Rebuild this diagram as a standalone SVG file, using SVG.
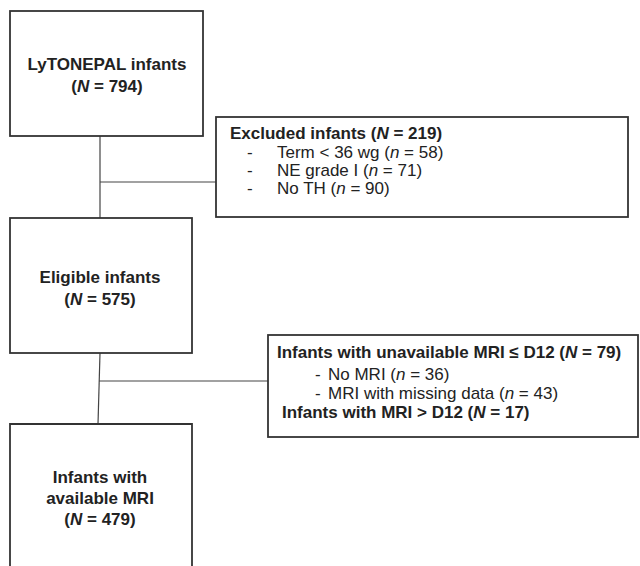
<svg xmlns="http://www.w3.org/2000/svg" width="640" height="566" viewBox="0 0 640 566">
<style>
.box{fill:#fff;stroke:#333;stroke-width:1.8}
.ln{fill:none;stroke:#444;stroke-width:1.2}
text{font-family:"Liberation Sans",Arial,sans-serif;font-size:17px;fill:#222}
.b{font-weight:bold}
.c{text-anchor:middle}
</style>
<rect width="640" height="566" fill="#fff"/>
<g id="connectors">
<line class="ln" x1="100" y1="136" x2="100" y2="218"/>
<line class="ln" x1="100" y1="182" x2="216" y2="182"/>
<line class="ln" x1="100" y1="353" x2="98" y2="424"/>
<line class="ln" x1="99" y1="381" x2="268" y2="381"/>
</g>
<g id="lytonepal">
<rect class="box" x="10" y="11" width="193" height="125"/>
<text class="b c" x="107" y="70">LyTONEPAL infants</text>
<text class="b c" x="107" y="92">(<tspan font-style="italic">N</tspan> = 794)</text>
</g>
<g id="excluded">
<rect class="box" x="216" y="117" width="412" height="100"/>
<text class="b" x="230" y="139">Excluded infants (<tspan font-style="italic">N</tspan> = 219)</text>
<text x="247" y="158">-</text><text x="277" y="158">Term &lt; 36 wg (<tspan font-style="italic">n</tspan> = 58)</text>
<text x="247" y="176">-</text><text x="277" y="176">NE grade I (<tspan font-style="italic">n</tspan> = 71)</text>
<text x="247" y="194">-</text><text x="277" y="194">No TH (<tspan font-style="italic">n</tspan> = 90)</text>
</g>
<g id="eligible">
<rect class="box" x="10" y="218" width="182" height="135"/>
<text class="b c" x="100" y="283">Eligible infants</text>
<text class="b c" x="100" y="305">(<tspan font-style="italic">N</tspan> = 575)</text>
</g>
<g id="unavailable">
<rect class="box" x="268" y="335" width="370" height="102"/>
<text class="b" x="277" y="358">Infants with unavailable MRI ≤ D12 (<tspan font-style="italic">N</tspan> = 79)</text>
<text x="315" y="380">-</text><text x="328" y="380">No MRI (<tspan font-style="italic">n</tspan> = 36)</text>
<text x="315" y="399">-</text><text x="328" y="399">MRI with missing data (<tspan font-style="italic">n</tspan> = 43)</text>
<text class="b" x="282" y="418">Infants with MRI &gt; D12 (<tspan font-style="italic">N</tspan> = 17)</text>
</g>
<g id="available">
<path class="box" d="M10 566 V424 H192 V566"/>
<text class="b c" x="100" y="483">Infants with</text>
<text class="b c" x="100" y="504">available MRI</text>
<text class="b c" x="100" y="525">(<tspan font-style="italic">N</tspan> = 479)</text>
</g>
</svg>
